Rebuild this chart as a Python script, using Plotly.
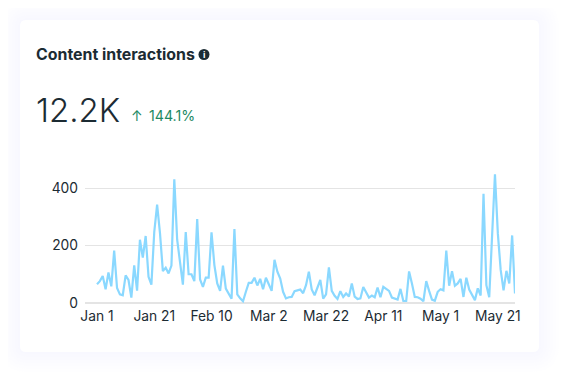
import pandas as pd
import plotly.graph_objects as go

OFF = 8  # page margin of the HTML body
W, H = 563, 376
L, R, T, B = 85, 515, 171, 303

values = [65,76,94,48,106,58,182,52,30,27,96,80,19,131,43,220,158,233,91,64,247,342,243,111,123,103,130,430,220,150,
          64,247,100,100,76,292,82,56,88,88,246,132,68,42,130,50,30,15,257,30,16,6,39,70,70,88,61,84,48,88,
          65,42,150,109,85,39,16,20,21,41,44,47,34,62,109,47,27,54,80,15,30,124,42,25,14,41,21,33,23,68,
          22,14,16,56,37,19,26,20,54,20,56,49,42,19,16,12,49,7,7,110,68,21,20,15,6,76,42,12,8,39,
          48,44,182,60,111,60,68,84,21,88,47,27,10,51,26,380,62,20,232,448,243,115,44,112,68,235,33]
dates = pd.date_range("2023-01-01", periods=len(values), freq="D")
tick_dates = ["2023-01-01","2023-01-21","2023-02-10","2023-03-02","2023-03-22","2023-04-11","2023-05-01","2023-05-21"]
tick_labels = ["Jan 1","Jan 21","Feb 10","Mar 2","Mar 22","Apr 11","May 1","May 21"]
y_ticks = [0, 200, 400]

def px(x): return (x - L) / (R - L)
def py(y): return (B - y) / (B - T)

def rrect(x0, y0, x1, y1, r):
    a, b, c, d = px(x0), px(x1), py(y0), py(y1)
    rx, ry = r / (R - L), r / (B - T)
    return (f"M{a+rx},{c} L{b-rx},{c} Q{b},{c} {b},{c-ry} L{b},{d+ry} Q{b},{d} {b-rx},{d} "
            f"L{a+rx},{d} Q{a},{d} {a},{d+ry} L{a},{c-ry} Q{a},{c} {a+rx},{c} Z")

shapes = []
for g in (20, 17, 14, 11, 8, 5, 2):
    shapes.append(dict(type="path", path=rrect(20-g, 20-g, 539+g, 352+g, 8+g), xref="paper", yref="paper",
                       fillcolor="rgba(225,225,255,0.025)", line_width=0, layer="below"))
shapes.append(dict(type="path", path=rrect(20, 20, 539, 352, 6), xref="paper", yref="paper",
                   fillcolor="#ffffff", line_width=0, layer="below"))
shapes.append(dict(type="circle", xref="paper", yref="paper", x0=px(198.5), x1=px(209.5), y0=py(60), y1=py(49),
                   fillcolor="#1c2b33", line_width=0))

def note(text, x, y, size, color, anchor="left", weight=400):
    return dict(text=text, x=px(x), y=py(y), xref="paper", yref="paper", showarrow=False, xanchor=anchor,
                yanchor="middle", font=dict(family="Inter", size=size, color=color, weight=weight))

annotations = [
    note("Content interactions", 34, 55, 15.9, "#1c2b33", weight=700),
    note("i", 204, 54.5, 9, "#ffffff", "center", 700),
    note("12.2K", 34, 110, 33, "#1c2b33", weight=300),
    note("↑", 129, 115, 14, "#1d8a63"),
    note("144.1%", 147, 115, 14.2, "#1d8a63"),
]

fig = go.Figure(go.Scatter(x=dates, y=values, mode="lines",
                           line=dict(color="#8ad8ff", width=2.2), hoverinfo="skip"))
fig.update_layout(
    width=W, height=H, autosize=False,
    margin=dict(l=L-OFF, r=W-(R-OFF), t=T-OFF, b=H-(B-OFF), pad=0),
    paper_bgcolor="#ffffff", plot_bgcolor="rgba(0,0,0,0)", showlegend=False,
    shapes=shapes, annotations=annotations,
    font=dict(family="Inter", size=14, color="#1c2b33"),
    xaxis=dict(range=[pd.Timestamp("2023-01-01") - pd.Timedelta(days=4.19),
                      pd.Timestamp("2023-01-01") + pd.Timedelta(days=146)],
               tickmode="array", tickvals=tick_dates, ticktext=tick_labels,
               showgrid=False, zeroline=False, showline=False, ticks="", ticklabelstandoff=3,
               tickfont=dict(size=13.8, color="#1c2b33")),
    yaxis=dict(range=[0, 132/0.2875], tickmode="array", tickvals=y_ticks,
               showgrid=True, gridcolor="#e4e4e4", gridwidth=1.3, zeroline=True, zerolinecolor="#e4e4e4", zerolinewidth=2,
               showline=False, ticks="", ticklabelstandoff=6,
               tickfont=dict(size=13.8, color="#1c2b33")),
)
fig.write_html("out.html")
